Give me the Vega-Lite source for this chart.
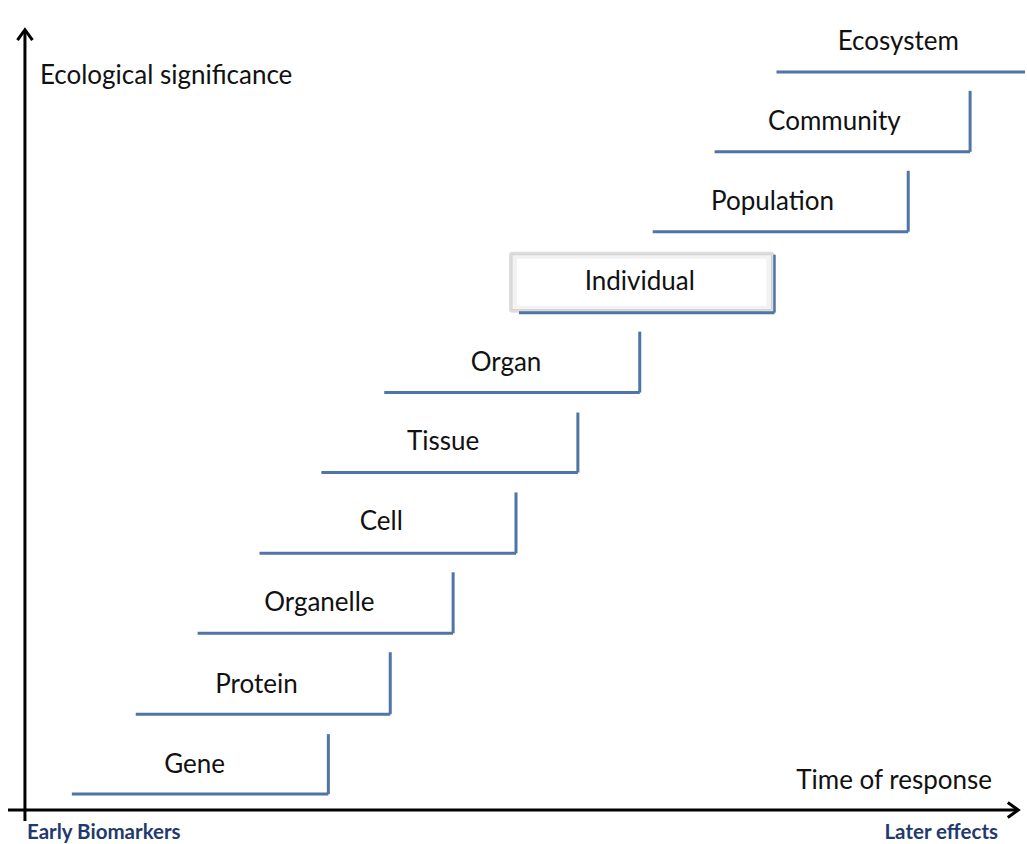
{
  "$schema": "https://vega.github.io/schema/vega-lite/v6.json",
  "width": 1027,
  "height": 844,
  "autosize": {"type": "fit", "contains": "padding"},
  "padding": 0,
  "background": "white",
  "config": {"view": {"stroke": null}, "font": "Lato"},
  "datasets": {
    "steps": [
      {"level": "Gene", "xs": 72, "xe": 329, "yb": 795, "yt": 735, "lx": 195, "ly": 766},
      {"level": "Protein", "xs": 136, "xe": 391, "yb": 715, "yt": 653, "lx": 257, "ly": 686},
      {"level": "Organelle", "xs": 198, "xe": 454, "yb": 634, "yt": 573, "lx": 320, "ly": 604},
      {"level": "Cell", "xs": 260, "xe": 517, "yb": 554, "yt": 493, "lx": 382, "ly": 523},
      {"level": "Tissue", "xs": 322, "xe": 579, "yb": 473, "yt": 413, "lx": 444, "ly": 443},
      {"level": "Organ", "xs": 385, "xe": 641, "yb": 393, "yt": 332, "lx": 507, "ly": 363},
      {"level": "Population", "xs": 654, "xe": 910, "yb": 232, "yt": 171, "lx": 774, "ly": 202},
      {"level": "Community", "xs": 716, "xe": 972, "yb": 152, "yt": 91, "lx": 836, "ly": 122}
    ],
    "eco": [{"level": "Ecosystem", "xs": 778, "xe": 1027, "yb": 72, "lx": 900, "ly": 42}],
    "indiv": [{"level": "Individual", "xs": 510, "xe": 776, "yt": 252, "yb": 313, "lx": 641, "ly": 282}],
    "axes": [
      {"name": "y", "x1": 25, "x2": 25, "y1": 30, "y2": 822},
      {"name": "x", "x1": 8, "x2": 1019, "y1": 811, "y2": 811}
    ],
    "titlesL": [
      {"text": "Ecological significance", "x": 40, "y": 76}
    ],
    "titlesR": [
      {"text": "Time of response", "x": 994, "y": 782}
    ],
    "footL": [{"text": "Early Biomarkers", "x": 27, "y": 834}],
    "footR": [{"text": "Later effects", "x": 1000, "y": 834}],
    "arrowUp": [{"x": 25, "y": 35}],
    "arrowRight": [{"x": 1015, "y": 811}]
  },
  "layer": [
    {
      "data": {"name": "axes"},
      "mark": {"type": "rule", "color": "black", "strokeWidth": 3},
      "encoding": {
        "x": {"field": "x1", "type": "quantitative", "scale": {"domain": [0, 1027]}, "axis": null},
        "x2": {"field": "x2"},
        "y": {"field": "y1", "type": "quantitative", "scale": {"domain": [0, 844], "reverse": true}, "axis": null},
        "y2": {"field": "y2"}
      }
    },
    {
      "data": {"name": "arrowUp"},
      "mark": {"type": "point", "shape": "M -1 0.7 L 0 -0.7 L 1 0.7", "filled": false, "stroke": "black", "strokeWidth": 3, "size": 225, "opacity": 1},
      "encoding": {
        "x": {"field": "x", "type": "quantitative", "scale": {"domain": [0, 1027]}, "axis": null},
        "y": {"field": "y", "type": "quantitative", "scale": {"domain": [0, 844], "reverse": true}, "axis": null}
      }
    },
    {
      "data": {"name": "arrowRight"},
      "mark": {"type": "point", "shape": "M -0.7 -1 L 0.7 0 L -0.7 1", "filled": false, "stroke": "black", "strokeWidth": 3, "size": 225, "opacity": 1},
      "encoding": {
        "x": {"field": "x", "type": "quantitative", "scale": {"domain": [0, 1027]}, "axis": null},
        "y": {"field": "y", "type": "quantitative", "scale": {"domain": [0, 844], "reverse": true}, "axis": null}
      }
    },
    {
      "data": {"name": "steps"},
      "mark": {"type": "rule", "color": "#4f74a6", "strokeWidth": 3},
      "encoding": {
        "x": {"field": "xs", "type": "quantitative", "scale": {"domain": [0, 1027]}, "axis": null},
        "x2": {"field": "xe"},
        "y": {"field": "yb", "type": "quantitative", "scale": {"domain": [0, 844], "reverse": true}, "axis": null}
      }
    },
    {
      "data": {"name": "steps"},
      "mark": {"type": "rule", "color": "#4f74a6", "strokeWidth": 3},
      "encoding": {
        "x": {"field": "xe", "type": "quantitative", "scale": {"domain": [0, 1027]}, "axis": null},
        "y": {"field": "yt", "type": "quantitative", "scale": {"domain": [0, 844], "reverse": true}, "axis": null},
        "y2": {"field": "yb"}
      }
    },
    {
      "data": {"name": "eco"},
      "mark": {"type": "rule", "color": "#4f74a6", "strokeWidth": 3},
      "encoding": {
        "x": {"field": "xs", "type": "quantitative", "scale": {"domain": [0, 1027]}, "axis": null},
        "x2": {"field": "xe"},
        "y": {"field": "yb", "type": "quantitative", "scale": {"domain": [0, 844], "reverse": true}, "axis": null}
      }
    },
    {
      "data": {"name": "indiv"},
      "mark": {"type": "rect", "fill": "#9e9e9e", "opacity": 0.35, "cornerRadius": 3},
      "encoding": {
        "x": {"field": "xs", "type": "quantitative", "scale": {"domain": [0, 1027]}, "axis": null},
        "x2": {"field": "xe"},
        "y": {"field": "yt", "type": "quantitative", "scale": {"domain": [0, 844], "reverse": true}, "axis": null},
        "y2": {"field": "yb"}
      }
    },
    {
      "data": {"name": "indiv"},
      "mark": {"type": "rect", "fill": "#f2f2f2", "stroke": "#d0d0d0", "strokeWidth": 1, "xOffset": 3, "x2Offset": -3, "yOffset": 3, "y2Offset": -3},
      "encoding": {
        "x": {"field": "xs", "type": "quantitative", "scale": {"domain": [0, 1027]}, "axis": null},
        "x2": {"field": "xe"},
        "y": {"field": "yt", "type": "quantitative", "scale": {"domain": [0, 844], "reverse": true}, "axis": null},
        "y2": {"field": "yb"}
      }
    },
    {
      "data": {"name": "indiv"},
      "mark": {"type": "rect", "fill": "white", "xOffset": 8, "x2Offset": -8, "yOffset": 7, "y2Offset": -7},
      "encoding": {
        "x": {"field": "xs", "type": "quantitative", "scale": {"domain": [0, 1027]}, "axis": null},
        "x2": {"field": "xe"},
        "y": {"field": "yt", "type": "quantitative", "scale": {"domain": [0, 844], "reverse": true}, "axis": null},
        "y2": {"field": "yb"}
      }
    },
    {
      "data": {"name": "indiv"},
      "mark": {"type": "rule", "color": "#4f74a6", "strokeWidth": 3, "xOffset": 10, "yOffset": 0},
      "encoding": {
        "x": {"field": "xs", "type": "quantitative", "scale": {"domain": [0, 1027]}, "axis": null},
        "x2": {"field": "xe"},
        "y": {"field": "yb", "type": "quantitative", "scale": {"domain": [0, 844], "reverse": true}, "axis": null}
      }
    },
    {
      "data": {"name": "indiv"},
      "mark": {"type": "rule", "color": "#4f74a6", "strokeWidth": 2.5, "xOffset": 0, "yOffset": 3, "y2Offset": 0},
      "encoding": {
        "x": {"field": "xe", "type": "quantitative", "scale": {"domain": [0, 1027]}, "axis": null},
        "y": {"field": "yt", "type": "quantitative", "scale": {"domain": [0, 844], "reverse": true}, "axis": null},
        "y2": {"field": "yb"}
      }
    },
    {
      "data": {"name": "steps"},
      "mark": {"type": "text", "fontSize": 26, "color": "#111", "align": "center", "baseline": "middle"},
      "encoding": {
        "x": {"field": "lx", "type": "quantitative", "scale": {"domain": [0, 1027]}, "axis": null},
        "y": {"field": "ly", "type": "quantitative", "scale": {"domain": [0, 844], "reverse": true}, "axis": null},
        "text": {"field": "level"}
      }
    },
    {
      "data": {"name": "eco"},
      "mark": {"type": "text", "fontSize": 26, "color": "#111", "align": "center", "baseline": "middle"},
      "encoding": {
        "x": {"field": "lx", "type": "quantitative", "scale": {"domain": [0, 1027]}, "axis": null},
        "y": {"field": "ly", "type": "quantitative", "scale": {"domain": [0, 844], "reverse": true}, "axis": null},
        "text": {"field": "level"}
      }
    },
    {
      "data": {"name": "indiv"},
      "mark": {"type": "text", "fontSize": 26, "color": "#111", "align": "center", "baseline": "middle"},
      "encoding": {
        "x": {"field": "lx", "type": "quantitative", "scale": {"domain": [0, 1027]}, "axis": null},
        "y": {"field": "ly", "type": "quantitative", "scale": {"domain": [0, 844], "reverse": true}, "axis": null},
        "text": {"field": "level"}
      }
    },
    {
      "data": {"name": "titlesL"},
      "mark": {"type": "text", "fontSize": 26, "color": "#111", "align": "left", "baseline": "middle"},
      "encoding": {
        "x": {"field": "x", "type": "quantitative", "scale": {"domain": [0, 1027]}, "axis": null},
        "y": {"field": "y", "type": "quantitative", "scale": {"domain": [0, 844], "reverse": true}, "axis": null},
        "text": {"field": "text"}
      }
    },
    {
      "data": {"name": "titlesR"},
      "mark": {"type": "text", "fontSize": 26, "color": "#111", "align": "right", "baseline": "middle"},
      "encoding": {
        "x": {"field": "x", "type": "quantitative", "scale": {"domain": [0, 1027]}, "axis": null},
        "y": {"field": "y", "type": "quantitative", "scale": {"domain": [0, 844], "reverse": true}, "axis": null},
        "text": {"field": "text"}
      }
    },
    {
      "data": {"name": "footL"},
      "mark": {"type": "text", "fontSize": 20.5, "fontWeight": "bold", "color": "#1f3a6e", "align": "left", "baseline": "middle"},
      "encoding": {
        "x": {"field": "x", "type": "quantitative", "scale": {"domain": [0, 1027]}, "axis": null},
        "y": {"field": "y", "type": "quantitative", "scale": {"domain": [0, 844], "reverse": true}, "axis": null},
        "text": {"field": "text"}
      }
    },
    {
      "data": {"name": "footR"},
      "mark": {"type": "text", "fontSize": 20.5, "fontWeight": "bold", "color": "#1f3a6e", "align": "right", "baseline": "middle"},
      "encoding": {
        "x": {"field": "x", "type": "quantitative", "scale": {"domain": [0, 1027]}, "axis": null},
        "y": {"field": "y", "type": "quantitative", "scale": {"domain": [0, 844], "reverse": true}, "axis": null},
        "text": {"field": "text"}
      }
    }
  ]
}
